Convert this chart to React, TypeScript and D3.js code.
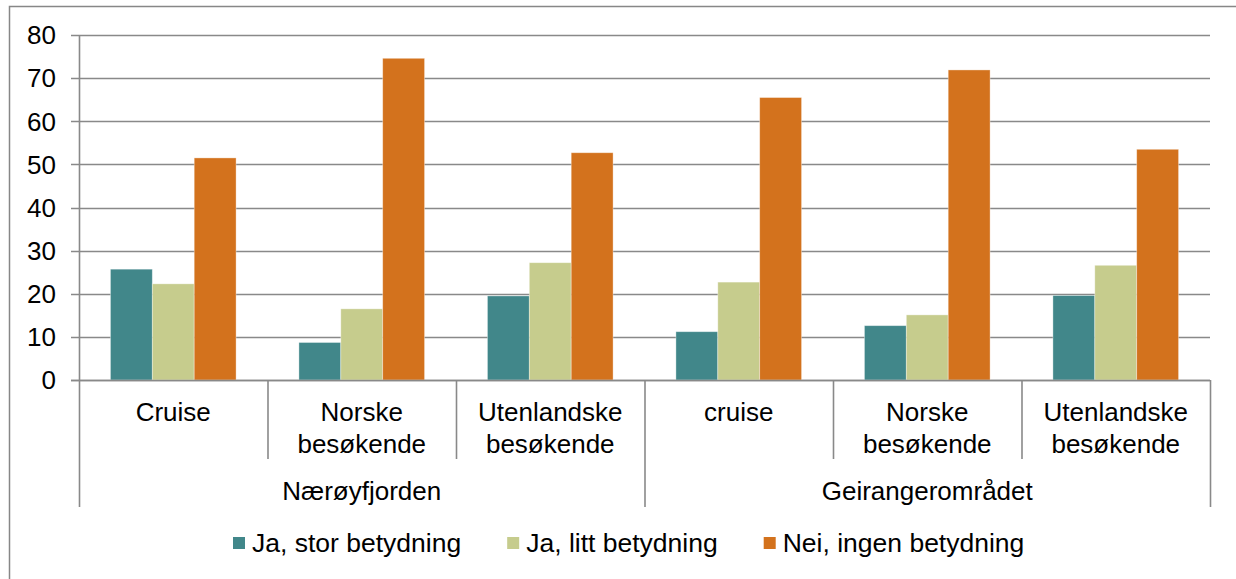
import React, { useRef, useEffect } from 'react';
import * as d3 from 'd3';

// categories (two-level x axis)
const groups = ['Nærøyfjorden', 'Geirangerområdet'];
const categories = [
    ['Cruise'],
    ['Norske', 'besøkende'],
    ['Utenlandske', 'besøkende'],
    ['cruise'],
    ['Norske', 'besøkende'],
    ['Utenlandske', 'besøkende'],
];
const categoryGroup = [0, 0, 0, 1, 1, 1];

const seriesNames = ['Ja, stor betydning', 'Ja, litt betydning', 'Nei, ingen betydning'];
const seriesColors = ['#41878a', '#c6cc8d', '#d3721d'];

const storBetydning = [25.7, 8.7, 19.5, 11.2, 12.6, 19.6];
const littBetydning = [22.3, 16.5, 27.2, 22.7, 15.1, 26.6];
const ingenBetydning = [51.5, 74.6, 52.7, 65.5, 71.9, 53.5];

const yTicks = [0, 10, 20, 30, 40, 50, 60, 70, 80];

const FONT = '"Liberation Sans", Arial, sans-serif';
const GRID = '#898989';

const App = () => {
    const svgRef = useRef(null);

    useEffect(() => {
        if (svgRef.current) {
            drawChart(svgRef.current);
        }
    }, []);

    return (
        <svg
            ref={svgRef}
            width={1236}
            height={579}
            style={{ position: 'absolute', left: 0, top: 0, background: '#fff' }}
        ></svg>
    );
};

function drawChart(node) {
    const svg = d3.select(node);
    svg.selectAll('*').remove();

    const left = 79, right = 1210, top = 35, bottom = 380;

    // chart frame
    svg.append('rect')
        .attr('x', 9.5)
        .attr('y', 6.5)
        .attr('width', 1300)
        .attr('height', 600)
        .attr('fill', '#fff')
        .attr('stroke', '#878787')
        .attr('stroke-width', 1.5);

    const x = d3.scaleBand()
        .domain(d3.range(categories.length))
        .range([left, right])
        .paddingInner(0)
        .paddingOuter(0);

    const xSub = d3.scaleBand()
        .domain(d3.range(seriesNames.length))
        .range([0, x.bandwidth()])
        .paddingInner(0)
        .paddingOuter(0.75);

    const y = d3.scaleLinear()
        .domain([0, 80])
        .range([bottom, top]);

    // gridlines + y ticks
    svg.append('g')
        .selectAll('line')
        .data(yTicks)
        .enter().append('line')
        .attr('x1', left - 8)
        .attr('x2', right)
        .attr('y1', d => Math.round(y(d)) + 0.5)
        .attr('y2', d => Math.round(y(d)) + 0.5)
        .attr('stroke', GRID)
        .attr('stroke-width', 1.6);

    svg.append('g')
        .selectAll('text')
        .data(yTicks)
        .enter().append('text')
        .attr('x', 56)
        .attr('y', d => y(d))
        .attr('dy', '0.36em')
        .attr('text-anchor', 'end')
        .style('font-family', FONT)
        .style('font-size', '26px')
        .style('fill', '#000')
        .text(d => d);

    // bars
    const values = [storBetydning, littBetydning, ingenBetydning];
    values.forEach((series, si) => {
        svg.append('g')
            .selectAll('rect')
            .data(series)
            .enter().append('rect')
            .attr('x', (d, i) => x(i) + xSub(si))
            .attr('width', xSub.bandwidth())
            .attr('y', d => y(d))
            .attr('height', d => y(0) - y(d))
            .attr('fill', seriesColors[si])
            .attr('stroke', 'rgba(255,255,255,0.45)')
            .attr('stroke-width', 0.8);
    });

    // axis lines
    svg.append('line')
        .attr('x1', left + 0.5).attr('x2', left + 0.5)
        .attr('y1', top).attr('y2', bottom)
        .attr('stroke', GRID).attr('stroke-width', 1.6);

    svg.append('line')
        .attr('x1', left - 8).attr('x2', right)
        .attr('y1', bottom + 0.5).attr('y2', bottom + 0.5)
        .attr('stroke', GRID).attr('stroke-width', 1.6);

    // category separators
    const boundaries = d3.range(categories.length + 1);
    svg.append('g')
        .selectAll('line')
        .data(boundaries)
        .enter().append('line')
        .attr('x1', i => (i < categories.length ? x(i) : right) + 0.5)
        .attr('x2', i => (i < categories.length ? x(i) : right) + 0.5)
        .attr('y1', bottom)
        .attr('y2', i => (i % 3 === 0 ? 507 : 459))
        .attr('stroke', GRID)
        .attr('stroke-width', 1.6);

    // category labels
    const catLabels = svg.append('g')
        .selectAll('text')
        .data(categories)
        .enter().append('text')
        .attr('text-anchor', 'middle')
        .style('font-family', FONT)
        .style('font-size', '26px')
        .style('fill', '#000');

    catLabels.selectAll('tspan')
        .data((d, i) => d.map(line => ({ line, i })))
        .enter().append('tspan')
        .attr('x', d => x(d.i) + x.bandwidth() / 2)
        .attr('y', (d, j) => 421 + j * 32)
        .text(d => d.line);

    // group labels
    svg.append('g')
        .selectAll('text')
        .data(groups)
        .enter().append('text')
        .attr('x', (d, gi) => {
            const idx = categoryGroup.map((g, i) => (g === gi ? i : -1)).filter(i => i >= 0);
            return (x(idx[0]) + x(idx[idx.length - 1]) + x.bandwidth()) / 2;
        })
        .attr('y', 500)
        .attr('text-anchor', 'middle')
        .style('font-family', FONT)
        .style('font-size', '26px')
        .style('fill', '#000')
        .text(d => d);

    // legend
    const legend = svg.append('g');
    let lx = 233;
    seriesNames.forEach((name, si) => {
        legend.append('rect')
            .attr('x', lx)
            .attr('y', 537)
            .attr('width', 12)
            .attr('height', 12)
            .attr('fill', seriesColors[si]);

        const t = legend.append('text')
            .attr('x', lx + 19)
            .attr('y', 552)
            .style('font-family', FONT)
            .style('font-size', '26.5px')
            .style('fill', '#000')
            .text(name);

        lx += 19 + t.node().getComputedTextLength() + 46;
    });
}

export default App;
